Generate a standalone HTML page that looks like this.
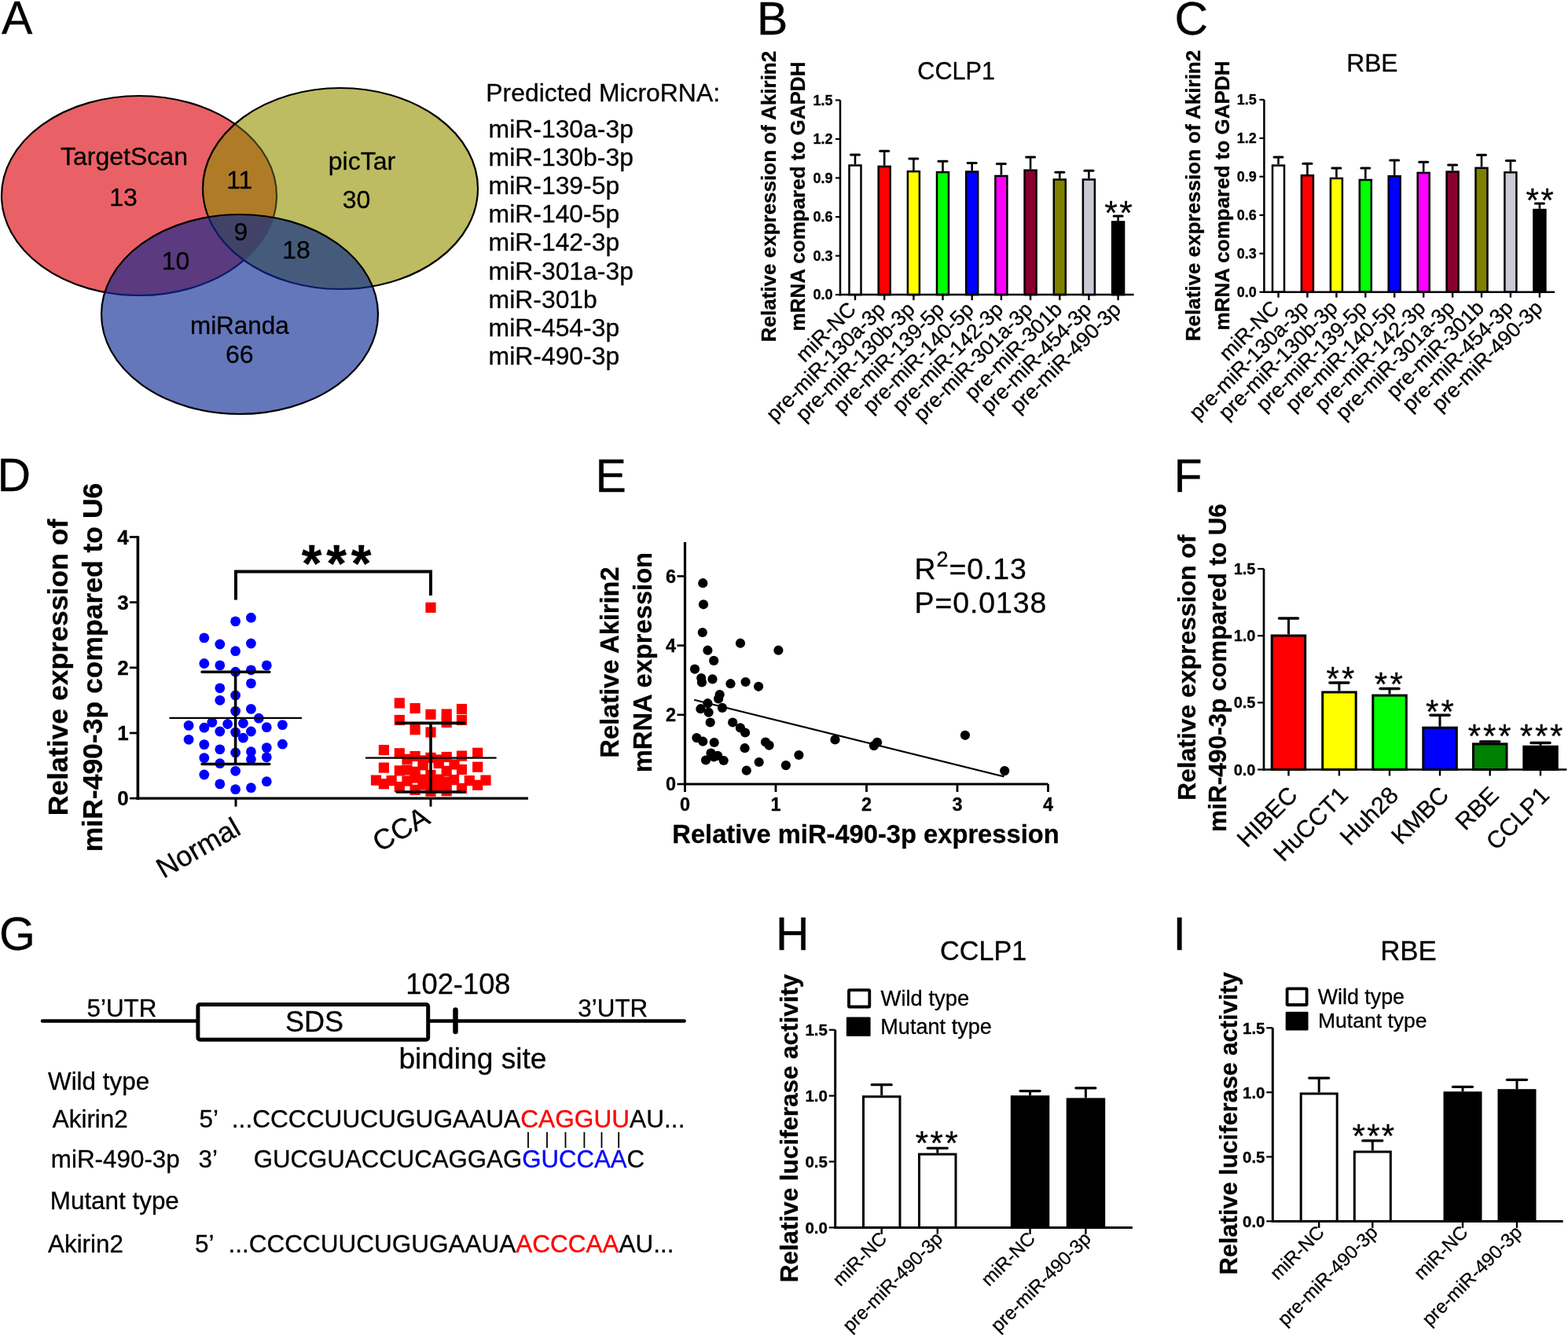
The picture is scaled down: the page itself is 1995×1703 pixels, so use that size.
<!DOCTYPE html>
<html><head><meta charset="utf-8"><title>Figure</title>
<style>html,body{margin:0;padding:0;background:#fff;} svg{display:block;} text{stroke:#000;stroke-width:0.3px;}</style>
</head><body>
<svg xmlns="http://www.w3.org/2000/svg" width="1995" height="1703" viewBox="0 0 1995 1703" font-family="'Liberation Sans', Arial, sans-serif">
<rect width="1995" height="1703" fill="#fff"/>
<text x="2.1" y="43.3" font-size="59">A</text>
<text x="962.9" y="44.0" font-size="59">B</text>
<text x="1494.4" y="44.0" font-size="59">C</text>
<text x="-3.6" y="624.8" font-size="59">D</text>
<text x="757.5" y="625.8" font-size="59">E</text>
<text x="1493.6" y="626.0" font-size="59">F</text>
<text x="-1.1" y="1208.7" font-size="59">G</text>
<text x="986.9" y="1209.4" font-size="59">H</text>
<text x="1492.5" y="1209.4" font-size="59">I</text>
<defs>
<clipPath id="cR"><ellipse cx="177" cy="249" rx="175" ry="127" /></clipPath>
<clipPath id="cY"><ellipse cx="433" cy="240" rx="175" ry="128" /></clipPath>
<clipPath id="cB"><ellipse cx="305" cy="400" rx="176" ry="127" /></clipPath>
</defs>
<ellipse cx="177" cy="249" rx="175" ry="127" fill="#E96166"/>
<ellipse cx="433" cy="240" rx="175" ry="128" fill="#BDBC62"/>
<ellipse cx="305" cy="400" rx="176" ry="127" fill="#6477BB"/>
<g clip-path="url(#cR)"><ellipse cx="433" cy="240" rx="175" ry="128" fill="#B07B27"/><ellipse cx="305" cy="400" rx="176" ry="127" fill="#5B3A7F"/></g>
<g clip-path="url(#cY)"><ellipse cx="305" cy="400" rx="176" ry="127" fill="#465B7C"/><g clip-path="url(#cR)"><ellipse cx="305" cy="400" rx="176" ry="127" fill="#414366"/></g></g>
<defs>
<mask id="mNYB" maskUnits="userSpaceOnUse" x="0" y="0" width="700" height="600"><rect width="700" height="600" fill="#fff"/><ellipse cx="433" cy="240" rx="175" ry="128" fill="#000"/><ellipse cx="305" cy="400" rx="176" ry="127" fill="#000"/></mask>
<mask id="mNB" maskUnits="userSpaceOnUse" x="0" y="0" width="700" height="600"><rect width="700" height="600" fill="#fff"/><ellipse cx="305" cy="400" rx="176" ry="127" fill="#000"/></mask>
<mask id="mNY" maskUnits="userSpaceOnUse" x="0" y="0" width="700" height="600"><rect width="700" height="600" fill="#fff"/><ellipse cx="433" cy="240" rx="175" ry="128" fill="#000"/></mask>
</defs>
<g mask="url(#mNYB)"><ellipse cx="177" cy="249" rx="175" ry="127" fill="none" stroke="#000" stroke-width="2.2"/></g>
<g clip-path="url(#cY)"><g mask="url(#mNB)"><ellipse cx="177" cy="249" rx="175" ry="127" fill="none" stroke="#3A3A12" stroke-width="2.2"/></g></g>
<g clip-path="url(#cB)"><g mask="url(#mNY)"><ellipse cx="177" cy="249" rx="175" ry="127" fill="none" stroke="#0A1A6A" stroke-width="2.2"/></g></g>
<g clip-path="url(#cB)"><g clip-path="url(#cY)"><ellipse cx="177" cy="249" rx="175" ry="127" fill="none" stroke="#344A6C" stroke-width="2.2"/></g></g>
<g mask="url(#mNB)"><ellipse cx="433" cy="240" rx="175" ry="128" fill="none" stroke="#000" stroke-width="2.2"/></g>
<g clip-path="url(#cB)"><ellipse cx="433" cy="240" rx="175" ry="128" fill="none" stroke="#0A1A66" stroke-width="2.2"/></g>
<ellipse cx="305" cy="400" rx="176" ry="127" fill="none" stroke="#000" stroke-width="2.2"/>
<text x="158.0" y="210.0" font-size="32" text-anchor="middle">TargetScan</text>
<text x="157.0" y="261.5" font-size="32" text-anchor="middle">13</text>
<text x="460.4" y="215.8" font-size="32" text-anchor="middle">picTar</text>
<text x="453.6" y="264.7" font-size="32" text-anchor="middle">30</text>
<text x="304.8" y="240.0" font-size="32" text-anchor="middle">11</text>
<text x="306.4" y="306.4" font-size="32" text-anchor="middle">9</text>
<text x="223.6" y="343.3" font-size="32" text-anchor="middle">10</text>
<text x="377.0" y="328.8" font-size="32" text-anchor="middle">18</text>
<text x="304.8" y="425.0" font-size="31.4" text-anchor="middle">miRanda</text>
<text x="304.8" y="462.0" font-size="32" text-anchor="middle">66</text>
<text x="618.3" y="129.3" font-size="31.9">Predicted MicroRNA:</text>
<text x="621.6" y="174.8" font-size="31.9">miR-130a-3p</text>
<text x="621.6" y="211.0" font-size="31.9">miR-130b-3p</text>
<text x="621.6" y="247.1" font-size="31.9">miR-139-5p</text>
<text x="621.6" y="283.2" font-size="31.9">miR-140-5p</text>
<text x="621.6" y="319.4" font-size="31.9">miR-142-3p</text>
<text x="621.6" y="355.6" font-size="31.9">miR-301a-3p</text>
<text x="621.6" y="391.7" font-size="31.9">miR-301b</text>
<text x="621.6" y="427.9" font-size="31.9">miR-454-3p</text>
<text x="621.6" y="464.0" font-size="31.9">miR-490-3p</text>
<line x1="1088.0" y1="209.2" x2="1088.0" y2="197.0" stroke="#000" stroke-width="2.6" stroke-linecap="butt"/>
<line x1="1082.5" y1="197.0" x2="1093.5" y2="197.0" stroke="#000" stroke-width="3" stroke-linecap="round"/>
<rect x="1080.5" y="210.5" width="15.0" height="164.6" fill="#FFFFFF" stroke="#000" stroke-width="2.5"/>
<line x1="1125.2" y1="210.7" x2="1125.2" y2="192.2" stroke="#000" stroke-width="2.6" stroke-linecap="butt"/>
<line x1="1119.7" y1="192.2" x2="1130.7" y2="192.2" stroke="#000" stroke-width="3" stroke-linecap="round"/>
<rect x="1117.7" y="211.9" width="15.0" height="163.2" fill="#FF0000" stroke="#000" stroke-width="2.5"/>
<line x1="1162.4" y1="217.0" x2="1162.4" y2="202.1" stroke="#000" stroke-width="2.6" stroke-linecap="butt"/>
<line x1="1156.9" y1="202.1" x2="1167.9" y2="202.1" stroke="#000" stroke-width="3" stroke-linecap="round"/>
<rect x="1154.9" y="218.2" width="15.0" height="156.9" fill="#FFFF00" stroke="#000" stroke-width="2.5"/>
<line x1="1199.5" y1="218.0" x2="1199.5" y2="205.2" stroke="#000" stroke-width="2.6" stroke-linecap="butt"/>
<line x1="1194.0" y1="205.2" x2="1205.0" y2="205.2" stroke="#000" stroke-width="3" stroke-linecap="round"/>
<rect x="1192.0" y="219.2" width="15.0" height="155.9" fill="#00FF00" stroke="#000" stroke-width="2.5"/>
<line x1="1236.7" y1="217.3" x2="1236.7" y2="207.6" stroke="#000" stroke-width="2.6" stroke-linecap="butt"/>
<line x1="1231.2" y1="207.6" x2="1242.2" y2="207.6" stroke="#000" stroke-width="3" stroke-linecap="round"/>
<rect x="1229.2" y="218.5" width="15.0" height="156.6" fill="#0000FF" stroke="#000" stroke-width="2.5"/>
<line x1="1273.9" y1="222.7" x2="1273.9" y2="208.4" stroke="#000" stroke-width="2.6" stroke-linecap="butt"/>
<line x1="1268.4" y1="208.4" x2="1279.4" y2="208.4" stroke="#000" stroke-width="3" stroke-linecap="round"/>
<rect x="1266.4" y="224.0" width="15.0" height="151.1" fill="#FF00FF" stroke="#000" stroke-width="2.5"/>
<line x1="1311.1" y1="215.5" x2="1311.1" y2="200.1" stroke="#000" stroke-width="2.6" stroke-linecap="butt"/>
<line x1="1305.6" y1="200.1" x2="1316.6" y2="200.1" stroke="#000" stroke-width="3" stroke-linecap="round"/>
<rect x="1303.6" y="216.7" width="15.0" height="158.4" fill="#880030" stroke="#000" stroke-width="2.5"/>
<line x1="1348.3" y1="227.2" x2="1348.3" y2="219.3" stroke="#000" stroke-width="2.6" stroke-linecap="butt"/>
<line x1="1342.8" y1="219.3" x2="1353.8" y2="219.3" stroke="#000" stroke-width="3" stroke-linecap="round"/>
<rect x="1340.8" y="228.5" width="15.0" height="146.6" fill="#808000" stroke="#000" stroke-width="2.5"/>
<line x1="1385.4" y1="227.2" x2="1385.4" y2="217.3" stroke="#000" stroke-width="2.6" stroke-linecap="butt"/>
<line x1="1379.9" y1="217.3" x2="1390.9" y2="217.3" stroke="#000" stroke-width="3" stroke-linecap="round"/>
<rect x="1377.9" y="228.5" width="15.0" height="146.6" fill="#CACAD6" stroke="#000" stroke-width="2.5"/>
<line x1="1422.6" y1="281.2" x2="1422.6" y2="275.1" stroke="#000" stroke-width="2.6" stroke-linecap="butt"/>
<line x1="1417.1" y1="275.1" x2="1428.1" y2="275.1" stroke="#000" stroke-width="3" stroke-linecap="round"/>
<rect x="1415.1" y="282.4" width="15.0" height="92.7" fill="#000000" stroke="#000" stroke-width="2.5"/>
<line x1="1069.0" y1="127.5" x2="1069.0" y2="376.4" stroke="#000" stroke-width="2.5" stroke-linecap="butt"/>
<line x1="1067.8" y1="375.1" x2="1442.6" y2="375.1" stroke="#000" stroke-width="2.5" stroke-linecap="butt"/>
<line x1="1063.0" y1="375.1" x2="1069.0" y2="375.1" stroke="#000" stroke-width="2.2" stroke-linecap="butt"/>
<text x="1059.5" y="381.4" font-size="18" font-weight="bold" text-anchor="end">0.0</text>
<line x1="1063.0" y1="325.6" x2="1069.0" y2="325.6" stroke="#000" stroke-width="2.2" stroke-linecap="butt"/>
<text x="1059.5" y="331.9" font-size="18" font-weight="bold" text-anchor="end">0.3</text>
<line x1="1063.0" y1="276.1" x2="1069.0" y2="276.1" stroke="#000" stroke-width="2.2" stroke-linecap="butt"/>
<text x="1059.5" y="282.4" font-size="18" font-weight="bold" text-anchor="end">0.6</text>
<line x1="1063.0" y1="226.5" x2="1069.0" y2="226.5" stroke="#000" stroke-width="2.2" stroke-linecap="butt"/>
<text x="1059.5" y="232.8" font-size="18" font-weight="bold" text-anchor="end">0.9</text>
<line x1="1063.0" y1="177.0" x2="1069.0" y2="177.0" stroke="#000" stroke-width="2.2" stroke-linecap="butt"/>
<text x="1059.5" y="183.3" font-size="18" font-weight="bold" text-anchor="end">1.2</text>
<line x1="1063.0" y1="127.5" x2="1069.0" y2="127.5" stroke="#000" stroke-width="2.2" stroke-linecap="butt"/>
<text x="1059.5" y="133.8" font-size="18" font-weight="bold" text-anchor="end">1.5</text>
<line x1="1088.0" y1="375.1" x2="1088.0" y2="382.1" stroke="#000" stroke-width="2.4" stroke-linecap="butt"/>
<line x1="1125.2" y1="375.1" x2="1125.2" y2="382.1" stroke="#000" stroke-width="2.4" stroke-linecap="butt"/>
<line x1="1162.4" y1="375.1" x2="1162.4" y2="382.1" stroke="#000" stroke-width="2.4" stroke-linecap="butt"/>
<line x1="1199.5" y1="375.1" x2="1199.5" y2="382.1" stroke="#000" stroke-width="2.4" stroke-linecap="butt"/>
<line x1="1236.7" y1="375.1" x2="1236.7" y2="382.1" stroke="#000" stroke-width="2.4" stroke-linecap="butt"/>
<line x1="1273.9" y1="375.1" x2="1273.9" y2="382.1" stroke="#000" stroke-width="2.4" stroke-linecap="butt"/>
<line x1="1311.1" y1="375.1" x2="1311.1" y2="382.1" stroke="#000" stroke-width="2.4" stroke-linecap="butt"/>
<line x1="1348.3" y1="375.1" x2="1348.3" y2="382.1" stroke="#000" stroke-width="2.4" stroke-linecap="butt"/>
<line x1="1385.4" y1="375.1" x2="1385.4" y2="382.1" stroke="#000" stroke-width="2.4" stroke-linecap="butt"/>
<line x1="1422.6" y1="375.1" x2="1422.6" y2="382.1" stroke="#000" stroke-width="2.4" stroke-linecap="butt"/>
<text transform="translate(1090.5,395.5) rotate(-45)" font-size="26.6" text-anchor="end">miR-NC</text>
<text transform="translate(1128.0,395.5) rotate(-45)" font-size="26.6" text-anchor="end">pre-miR-130a-3p</text>
<text transform="translate(1165.5,395.5) rotate(-45)" font-size="26.6" text-anchor="end">pre-miR-130b-3p</text>
<text transform="translate(1202.9,395.5) rotate(-45)" font-size="26.6" text-anchor="end">pre-miR-139-5p</text>
<text transform="translate(1240.4,395.5) rotate(-45)" font-size="26.6" text-anchor="end">pre-miR-140-5p</text>
<text transform="translate(1277.9,395.5) rotate(-45)" font-size="26.6" text-anchor="end">pre-miR-142-3p</text>
<text transform="translate(1315.4,395.5) rotate(-45)" font-size="26.6" text-anchor="end">pre-miR-301a-3p</text>
<text transform="translate(1352.9,395.5) rotate(-45)" font-size="26.6" text-anchor="end">pre-miR-301b</text>
<text transform="translate(1390.3,395.5) rotate(-45)" font-size="26.6" text-anchor="end">pre-miR-454-3p</text>
<text transform="translate(1427.8,395.5) rotate(-45)" font-size="26.6" text-anchor="end">pre-miR-490-3p</text>
<text x="1413.5" y="284.6" font-size="42.5" text-anchor="middle">*</text>
<text x="1432.4" y="284.6" font-size="42.5" text-anchor="middle">*</text>
<text x="1216.6" y="101.3" font-size="30.6" text-anchor="middle">CCLP1</text>
<text transform="translate(987.0,250.0) rotate(-90)" font-size="26" font-weight="bold" text-anchor="middle">Relative expression of Akirin2</text>
<text transform="translate(1024.0,250.0) rotate(-90)" font-size="26" font-weight="bold" text-anchor="middle">mRNA compared to GAPDH</text>
<line x1="1626.5" y1="209.3" x2="1626.5" y2="199.9" stroke="#000" stroke-width="2.6" stroke-linecap="butt"/>
<line x1="1621.0" y1="199.9" x2="1632.0" y2="199.9" stroke="#000" stroke-width="3" stroke-linecap="round"/>
<rect x="1619.0" y="210.6" width="15.0" height="161.1" fill="#FFFFFF" stroke="#000" stroke-width="2.5"/>
<line x1="1663.4" y1="222.0" x2="1663.4" y2="208.3" stroke="#000" stroke-width="2.6" stroke-linecap="butt"/>
<line x1="1657.9" y1="208.3" x2="1668.9" y2="208.3" stroke="#000" stroke-width="3" stroke-linecap="round"/>
<rect x="1655.9" y="223.3" width="15.0" height="148.4" fill="#FF0000" stroke="#000" stroke-width="2.5"/>
<line x1="1700.4" y1="225.8" x2="1700.4" y2="214.0" stroke="#000" stroke-width="2.6" stroke-linecap="butt"/>
<line x1="1694.9" y1="214.0" x2="1705.9" y2="214.0" stroke="#000" stroke-width="3" stroke-linecap="round"/>
<rect x="1692.9" y="227.0" width="15.0" height="144.7" fill="#FFFF00" stroke="#000" stroke-width="2.5"/>
<line x1="1737.3" y1="227.8" x2="1737.3" y2="214.0" stroke="#000" stroke-width="2.6" stroke-linecap="butt"/>
<line x1="1731.8" y1="214.0" x2="1742.8" y2="214.0" stroke="#000" stroke-width="3" stroke-linecap="round"/>
<rect x="1729.8" y="229.0" width="15.0" height="142.7" fill="#00FF00" stroke="#000" stroke-width="2.5"/>
<line x1="1774.2" y1="223.0" x2="1774.2" y2="203.9" stroke="#000" stroke-width="2.6" stroke-linecap="butt"/>
<line x1="1768.7" y1="203.9" x2="1779.7" y2="203.9" stroke="#000" stroke-width="3" stroke-linecap="round"/>
<rect x="1766.7" y="224.3" width="15.0" height="147.4" fill="#0000FF" stroke="#000" stroke-width="2.5"/>
<line x1="1811.2" y1="218.8" x2="1811.2" y2="206.2" stroke="#000" stroke-width="2.6" stroke-linecap="butt"/>
<line x1="1805.7" y1="206.2" x2="1816.7" y2="206.2" stroke="#000" stroke-width="3" stroke-linecap="round"/>
<rect x="1803.7" y="220.0" width="15.0" height="151.7" fill="#FF00FF" stroke="#000" stroke-width="2.5"/>
<line x1="1848.1" y1="217.3" x2="1848.1" y2="210.0" stroke="#000" stroke-width="2.6" stroke-linecap="butt"/>
<line x1="1842.6" y1="210.0" x2="1853.6" y2="210.0" stroke="#000" stroke-width="3" stroke-linecap="round"/>
<rect x="1840.6" y="218.6" width="15.0" height="153.1" fill="#880030" stroke="#000" stroke-width="2.5"/>
<line x1="1885.0" y1="212.6" x2="1885.0" y2="197.2" stroke="#000" stroke-width="2.6" stroke-linecap="butt"/>
<line x1="1879.5" y1="197.2" x2="1890.5" y2="197.2" stroke="#000" stroke-width="3" stroke-linecap="round"/>
<rect x="1877.5" y="213.8" width="15.0" height="157.9" fill="#808000" stroke="#000" stroke-width="2.5"/>
<line x1="1921.9" y1="218.1" x2="1921.9" y2="204.6" stroke="#000" stroke-width="2.6" stroke-linecap="butt"/>
<line x1="1916.4" y1="204.6" x2="1927.4" y2="204.6" stroke="#000" stroke-width="3" stroke-linecap="round"/>
<rect x="1914.4" y="219.4" width="15.0" height="152.3" fill="#CACAD6" stroke="#000" stroke-width="2.5"/>
<line x1="1958.9" y1="265.8" x2="1958.9" y2="259.1" stroke="#000" stroke-width="2.6" stroke-linecap="butt"/>
<line x1="1953.4" y1="259.1" x2="1964.4" y2="259.1" stroke="#000" stroke-width="3" stroke-linecap="round"/>
<rect x="1951.4" y="267.0" width="15.0" height="104.7" fill="#000000" stroke="#000" stroke-width="2.5"/>
<line x1="1608.4" y1="126.9" x2="1608.4" y2="372.9" stroke="#000" stroke-width="2.5" stroke-linecap="butt"/>
<line x1="1607.2" y1="371.7" x2="1978.0" y2="371.7" stroke="#000" stroke-width="2.5" stroke-linecap="butt"/>
<line x1="1602.4" y1="371.7" x2="1608.4" y2="371.7" stroke="#000" stroke-width="2.2" stroke-linecap="butt"/>
<text x="1598.9" y="378.0" font-size="18" font-weight="bold" text-anchor="end">0.0</text>
<line x1="1602.4" y1="322.7" x2="1608.4" y2="322.7" stroke="#000" stroke-width="2.2" stroke-linecap="butt"/>
<text x="1598.9" y="329.0" font-size="18" font-weight="bold" text-anchor="end">0.3</text>
<line x1="1602.4" y1="273.8" x2="1608.4" y2="273.8" stroke="#000" stroke-width="2.2" stroke-linecap="butt"/>
<text x="1598.9" y="280.1" font-size="18" font-weight="bold" text-anchor="end">0.6</text>
<line x1="1602.4" y1="224.8" x2="1608.4" y2="224.8" stroke="#000" stroke-width="2.2" stroke-linecap="butt"/>
<text x="1598.9" y="231.1" font-size="18" font-weight="bold" text-anchor="end">0.9</text>
<line x1="1602.4" y1="175.9" x2="1608.4" y2="175.9" stroke="#000" stroke-width="2.2" stroke-linecap="butt"/>
<text x="1598.9" y="182.2" font-size="18" font-weight="bold" text-anchor="end">1.2</text>
<line x1="1602.4" y1="126.9" x2="1608.4" y2="126.9" stroke="#000" stroke-width="2.2" stroke-linecap="butt"/>
<text x="1598.9" y="133.2" font-size="18" font-weight="bold" text-anchor="end">1.5</text>
<line x1="1626.5" y1="371.7" x2="1626.5" y2="378.7" stroke="#000" stroke-width="2.4" stroke-linecap="butt"/>
<line x1="1663.4" y1="371.7" x2="1663.4" y2="378.7" stroke="#000" stroke-width="2.4" stroke-linecap="butt"/>
<line x1="1700.4" y1="371.7" x2="1700.4" y2="378.7" stroke="#000" stroke-width="2.4" stroke-linecap="butt"/>
<line x1="1737.3" y1="371.7" x2="1737.3" y2="378.7" stroke="#000" stroke-width="2.4" stroke-linecap="butt"/>
<line x1="1774.2" y1="371.7" x2="1774.2" y2="378.7" stroke="#000" stroke-width="2.4" stroke-linecap="butt"/>
<line x1="1811.2" y1="371.7" x2="1811.2" y2="378.7" stroke="#000" stroke-width="2.4" stroke-linecap="butt"/>
<line x1="1848.1" y1="371.7" x2="1848.1" y2="378.7" stroke="#000" stroke-width="2.4" stroke-linecap="butt"/>
<line x1="1885.0" y1="371.7" x2="1885.0" y2="378.7" stroke="#000" stroke-width="2.4" stroke-linecap="butt"/>
<line x1="1921.9" y1="371.7" x2="1921.9" y2="378.7" stroke="#000" stroke-width="2.4" stroke-linecap="butt"/>
<line x1="1958.9" y1="371.7" x2="1958.9" y2="378.7" stroke="#000" stroke-width="2.4" stroke-linecap="butt"/>
<text transform="translate(1629.0,393.6) rotate(-45)" font-size="26.6" text-anchor="end">miR-NC</text>
<text transform="translate(1666.2,393.6) rotate(-45)" font-size="26.6" text-anchor="end">pre-miR-130a-3p</text>
<text transform="translate(1703.5,393.6) rotate(-45)" font-size="26.6" text-anchor="end">pre-miR-130b-3p</text>
<text transform="translate(1740.7,393.6) rotate(-45)" font-size="26.6" text-anchor="end">pre-miR-139-5p</text>
<text transform="translate(1777.9,393.6) rotate(-45)" font-size="26.6" text-anchor="end">pre-miR-140-5p</text>
<text transform="translate(1815.2,393.6) rotate(-45)" font-size="26.6" text-anchor="end">pre-miR-142-3p</text>
<text transform="translate(1852.4,393.6) rotate(-45)" font-size="26.6" text-anchor="end">pre-miR-301a-3p</text>
<text transform="translate(1889.6,393.6) rotate(-45)" font-size="26.6" text-anchor="end">pre-miR-301b</text>
<text transform="translate(1926.8,393.6) rotate(-45)" font-size="26.6" text-anchor="end">pre-miR-454-3p</text>
<text transform="translate(1964.1,393.6) rotate(-45)" font-size="26.6" text-anchor="end">pre-miR-490-3p</text>
<text x="1949.7" y="268.5" font-size="42.5" text-anchor="middle">*</text>
<text x="1968.4" y="268.5" font-size="42.5" text-anchor="middle">*</text>
<text x="1745.9" y="91.3" font-size="31.7" text-anchor="middle">RBE</text>
<text transform="translate(1527.0,249.0) rotate(-90)" font-size="26" font-weight="bold" text-anchor="middle">Relative expression of Akirin2</text>
<text transform="translate(1564.0,249.0) rotate(-90)" font-size="26" font-weight="bold" text-anchor="middle">mRNA compared to GAPDH</text>
<line x1="175.4" y1="682.2" x2="175.4" y2="1017.9" stroke="#000" stroke-width="3.6" stroke-linecap="butt"/>
<line x1="173.6" y1="1016.1" x2="672.0" y2="1016.1" stroke="#000" stroke-width="3.4" stroke-linecap="butt"/>
<line x1="164.9" y1="1016.1" x2="175.4" y2="1016.1" stroke="#000" stroke-width="2.7" stroke-linecap="butt"/>
<text x="163.6" y="1025.2" font-size="26" font-weight="bold" text-anchor="end">0</text>
<line x1="164.9" y1="933.0" x2="175.4" y2="933.0" stroke="#000" stroke-width="2.7" stroke-linecap="butt"/>
<text x="163.6" y="942.1" font-size="26" font-weight="bold" text-anchor="end">1</text>
<line x1="164.9" y1="849.8" x2="175.4" y2="849.8" stroke="#000" stroke-width="2.7" stroke-linecap="butt"/>
<text x="163.6" y="858.9" font-size="26" font-weight="bold" text-anchor="end">2</text>
<line x1="164.9" y1="766.6" x2="175.4" y2="766.6" stroke="#000" stroke-width="2.7" stroke-linecap="butt"/>
<text x="163.6" y="775.8" font-size="26" font-weight="bold" text-anchor="end">3</text>
<line x1="164.9" y1="683.5" x2="175.4" y2="683.5" stroke="#000" stroke-width="2.7" stroke-linecap="butt"/>
<text x="163.6" y="692.6" font-size="26" font-weight="bold" text-anchor="end">4</text>
<line x1="300.0" y1="1016.1" x2="300.0" y2="1026.6" stroke="#000" stroke-width="3" stroke-linecap="butt"/>
<line x1="548.0" y1="1016.1" x2="548.0" y2="1026.6" stroke="#000" stroke-width="3" stroke-linecap="butt"/>
<circle cx="299.6" cy="790.9" r="6.4" fill="#0000FF"/>
<circle cx="319.4" cy="786.2" r="6.4" fill="#0000FF"/>
<circle cx="259.8" cy="811.9" r="6.4" fill="#0000FF"/>
<circle cx="279.8" cy="820" r="6.4" fill="#0000FF"/>
<circle cx="319.4" cy="819" r="6.4" fill="#0000FF"/>
<circle cx="299.6" cy="828.7" r="6.4" fill="#0000FF"/>
<circle cx="259.8" cy="844.5" r="6.4" fill="#0000FF"/>
<circle cx="279.8" cy="846.9" r="6.4" fill="#0000FF"/>
<circle cx="339.3" cy="846.9" r="6.4" fill="#0000FF"/>
<circle cx="299.6" cy="855.2" r="6.4" fill="#0000FF"/>
<circle cx="319.4" cy="852.8" r="6.4" fill="#0000FF"/>
<circle cx="319.4" cy="869.8" r="6.4" fill="#0000FF"/>
<circle cx="279.8" cy="875.8" r="6.4" fill="#0000FF"/>
<circle cx="299.6" cy="885" r="6.4" fill="#0000FF"/>
<circle cx="279.8" cy="891.3" r="6.4" fill="#0000FF"/>
<circle cx="319.4" cy="902.4" r="6.4" fill="#0000FF"/>
<circle cx="299.6" cy="905.1" r="6.4" fill="#0000FF"/>
<circle cx="329.3" cy="914.2" r="6.4" fill="#0000FF"/>
<circle cx="269.8" cy="919.4" r="6.4" fill="#0000FF"/>
<circle cx="289.6" cy="921.5" r="6.4" fill="#0000FF"/>
<circle cx="309.4" cy="920.5" r="6.4" fill="#0000FF"/>
<circle cx="240.1" cy="923.4" r="6.4" fill="#0000FF"/>
<circle cx="259.8" cy="926.2" r="6.4" fill="#0000FF"/>
<circle cx="339.3" cy="925.7" r="6.4" fill="#0000FF"/>
<circle cx="359.4" cy="922.6" r="6.4" fill="#0000FF"/>
<circle cx="279.8" cy="931" r="6.4" fill="#0000FF"/>
<circle cx="299.6" cy="932.1" r="6.4" fill="#0000FF"/>
<circle cx="319.4" cy="931" r="6.4" fill="#0000FF"/>
<circle cx="309.4" cy="939.2" r="6.4" fill="#0000FF"/>
<circle cx="240.1" cy="941.3" r="6.4" fill="#0000FF"/>
<circle cx="259.8" cy="947.6" r="6.4" fill="#0000FF"/>
<circle cx="359.4" cy="947.2" r="6.4" fill="#0000FF"/>
<circle cx="339.3" cy="951.6" r="6.4" fill="#0000FF"/>
<circle cx="279.8" cy="953.8" r="6.4" fill="#0000FF"/>
<circle cx="299.6" cy="958" r="6.4" fill="#0000FF"/>
<circle cx="319.4" cy="956.7" r="6.4" fill="#0000FF"/>
<circle cx="259.8" cy="964.6" r="6.4" fill="#0000FF"/>
<circle cx="339.3" cy="963.8" r="6.4" fill="#0000FF"/>
<circle cx="319.4" cy="966.5" r="6.4" fill="#0000FF"/>
<circle cx="279.8" cy="971.7" r="6.4" fill="#0000FF"/>
<circle cx="299.6" cy="981.3" r="6.4" fill="#0000FF"/>
<circle cx="259.8" cy="986" r="6.4" fill="#0000FF"/>
<circle cx="339.3" cy="994.7" r="6.4" fill="#0000FF"/>
<circle cx="279.8" cy="997.9" r="6.4" fill="#0000FF"/>
<circle cx="319.4" cy="1002.7" r="6.4" fill="#0000FF"/>
<circle cx="299.6" cy="1004.7" r="6.4" fill="#0000FF"/>
<rect x="541.4" y="766.7" width="13.2" height="13.2" fill="#FF0000"/>
<rect x="501.7" y="888.3" width="13.2" height="13.2" fill="#FF0000"/>
<rect x="521.5" y="894.9" width="13.2" height="13.2" fill="#FF0000"/>
<rect x="541.4" y="902.7" width="13.2" height="13.2" fill="#FF0000"/>
<rect x="561.6" y="902.4" width="13.2" height="13.2" fill="#FF0000"/>
<rect x="580.9" y="895.9" width="13.2" height="13.2" fill="#FF0000"/>
<rect x="580.9" y="909.9" width="13.2" height="13.2" fill="#FF0000"/>
<rect x="561.6" y="912.9" width="13.2" height="13.2" fill="#FF0000"/>
<rect x="501.7" y="909.9" width="13.2" height="13.2" fill="#FF0000"/>
<rect x="521.5" y="922.1" width="13.2" height="13.2" fill="#FF0000"/>
<rect x="541.4" y="925.4" width="13.2" height="13.2" fill="#FF0000"/>
<rect x="481.8" y="948.0" width="13.2" height="13.2" fill="#FF0000"/>
<rect x="501.7" y="952.2" width="13.2" height="13.2" fill="#FF0000"/>
<rect x="521.5" y="955.9" width="13.2" height="13.2" fill="#FF0000"/>
<rect x="541.4" y="957.8" width="13.2" height="13.2" fill="#FF0000"/>
<rect x="561.6" y="956.9" width="13.2" height="13.2" fill="#FF0000"/>
<rect x="580.9" y="955.5" width="13.2" height="13.2" fill="#FF0000"/>
<rect x="601.1" y="951.7" width="13.2" height="13.2" fill="#FF0000"/>
<rect x="511.4" y="959.7" width="13.2" height="13.2" fill="#FF0000"/>
<rect x="531.6" y="961.4" width="13.2" height="13.2" fill="#FF0000"/>
<rect x="551.6" y="960.4" width="13.2" height="13.2" fill="#FF0000"/>
<rect x="481.8" y="970.5" width="13.2" height="13.2" fill="#FF0000"/>
<rect x="501.7" y="974.3" width="13.2" height="13.2" fill="#FF0000"/>
<rect x="521.5" y="975.7" width="13.2" height="13.2" fill="#FF0000"/>
<rect x="531.6" y="967.2" width="13.2" height="13.2" fill="#FF0000"/>
<rect x="551.6" y="964.9" width="13.2" height="13.2" fill="#FF0000"/>
<rect x="561.6" y="974.7" width="13.2" height="13.2" fill="#FF0000"/>
<rect x="580.9" y="972.9" width="13.2" height="13.2" fill="#FF0000"/>
<rect x="601.1" y="969.6" width="13.2" height="13.2" fill="#FF0000"/>
<rect x="541.4" y="979.9" width="13.2" height="13.2" fill="#FF0000"/>
<rect x="511.4" y="973.4" width="13.2" height="13.2" fill="#FF0000"/>
<rect x="571.4" y="966.4" width="13.2" height="13.2" fill="#FF0000"/>
<rect x="471.9" y="986.5" width="13.2" height="13.2" fill="#FF0000"/>
<rect x="481.8" y="991.2" width="13.2" height="13.2" fill="#FF0000"/>
<rect x="491.6" y="987.0" width="13.2" height="13.2" fill="#FF0000"/>
<rect x="501.7" y="994.9" width="13.2" height="13.2" fill="#FF0000"/>
<rect x="511.4" y="987.4" width="13.2" height="13.2" fill="#FF0000"/>
<rect x="521.5" y="998.7" width="13.2" height="13.2" fill="#FF0000"/>
<rect x="531.6" y="985.5" width="13.2" height="13.2" fill="#FF0000"/>
<rect x="541.4" y="1000.6" width="13.2" height="13.2" fill="#FF0000"/>
<rect x="551.6" y="985.5" width="13.2" height="13.2" fill="#FF0000"/>
<rect x="561.6" y="1000.1" width="13.2" height="13.2" fill="#FF0000"/>
<rect x="571.0" y="986.0" width="13.2" height="13.2" fill="#FF0000"/>
<rect x="580.9" y="996.8" width="13.2" height="13.2" fill="#FF0000"/>
<rect x="590.7" y="987.0" width="13.2" height="13.2" fill="#FF0000"/>
<rect x="601.1" y="992.6" width="13.2" height="13.2" fill="#FF0000"/>
<rect x="611.4" y="986.5" width="13.2" height="13.2" fill="#FF0000"/>
<rect x="531.6" y="992.4" width="13.2" height="13.2" fill="#FF0000"/>
<rect x="551.6" y="993.4" width="13.2" height="13.2" fill="#FF0000"/>
<rect x="521.5" y="983.4" width="13.2" height="13.2" fill="#FF0000"/>
<rect x="561.6" y="988.4" width="13.2" height="13.2" fill="#FF0000"/>
<rect x="541.4" y="990.4" width="13.2" height="13.2" fill="#FF0000"/>
<line x1="215.4" y1="913.8" x2="384.0" y2="913.8" stroke="#000" stroke-width="2.2" stroke-linecap="butt"/>
<line x1="299.6" y1="855.2" x2="299.6" y2="972.5" stroke="#000" stroke-width="3.6" stroke-linecap="butt"/>
<line x1="257.1" y1="855.2" x2="342.7" y2="855.2" stroke="#000" stroke-width="3.6" stroke-linecap="round"/>
<line x1="257.1" y1="972.5" x2="342.7" y2="972.5" stroke="#000" stroke-width="3.6" stroke-linecap="round"/>
<line x1="465.0" y1="964.6" x2="631.6" y2="964.6" stroke="#000" stroke-width="2.2" stroke-linecap="butt"/>
<line x1="548.0" y1="920.4" x2="548.0" y2="1008.0" stroke="#000" stroke-width="3.6" stroke-linecap="butt"/>
<line x1="505.0" y1="920.4" x2="591.0" y2="920.4" stroke="#000" stroke-width="3.6" stroke-linecap="round"/>
<line x1="505.0" y1="1008.0" x2="591.0" y2="1008.0" stroke="#000" stroke-width="3.6" stroke-linecap="round"/>
<polyline points="300,763.5 300,727.5 548,727.5 548,758" fill="none" stroke="#000" stroke-width="4"/>
<text x="396.5" y="739.8" font-size="66" font-weight="bold" text-anchor="middle">*</text>
<text x="428.0" y="739.8" font-size="66" font-weight="bold" text-anchor="middle">*</text>
<text x="459.6" y="739.8" font-size="66" font-weight="bold" text-anchor="middle">*</text>
<text transform="translate(86.0,849.5) rotate(-90)" font-size="35.6" font-weight="bold" text-anchor="middle">Relative expression of</text>
<text transform="translate(130.0,849.5) rotate(-90)" font-size="35.5" font-weight="bold" text-anchor="middle">miR-490-3p compared to U6</text>
<text transform="translate(308.4,1060.8) rotate(-30)" font-size="36" text-anchor="end">Normal</text>
<text transform="translate(549.0,1047.0) rotate(-30)" font-size="36" text-anchor="end">CCA</text>
<line x1="871.5" y1="690.0" x2="871.5" y2="999.6" stroke="#000" stroke-width="3.2" stroke-linecap="butt"/>
<line x1="869.9" y1="998.0" x2="1333.5" y2="998.0" stroke="#000" stroke-width="3.2" stroke-linecap="butt"/>
<line x1="861.5" y1="998.0" x2="871.5" y2="998.0" stroke="#000" stroke-width="2.6" stroke-linecap="butt"/>
<text x="860.0" y="1006.2" font-size="23.5" font-weight="bold" text-anchor="end">0</text>
<line x1="861.5" y1="909.8" x2="871.5" y2="909.8" stroke="#000" stroke-width="2.6" stroke-linecap="butt"/>
<text x="860.0" y="918.0" font-size="23.5" font-weight="bold" text-anchor="end">2</text>
<line x1="861.5" y1="821.6" x2="871.5" y2="821.6" stroke="#000" stroke-width="2.6" stroke-linecap="butt"/>
<text x="860.0" y="829.8" font-size="23.5" font-weight="bold" text-anchor="end">4</text>
<line x1="861.5" y1="733.4" x2="871.5" y2="733.4" stroke="#000" stroke-width="2.6" stroke-linecap="butt"/>
<text x="860.0" y="741.6" font-size="23.5" font-weight="bold" text-anchor="end">6</text>
<line x1="871.5" y1="998.0" x2="871.5" y2="1008.0" stroke="#000" stroke-width="2.8" stroke-linecap="butt"/>
<text x="871.5" y="1031.5" font-size="23.5" font-weight="bold" text-anchor="middle">0</text>
<line x1="987.0" y1="998.0" x2="987.0" y2="1008.0" stroke="#000" stroke-width="2.8" stroke-linecap="butt"/>
<text x="987.0" y="1031.5" font-size="23.5" font-weight="bold" text-anchor="middle">1</text>
<line x1="1102.5" y1="998.0" x2="1102.5" y2="1008.0" stroke="#000" stroke-width="2.8" stroke-linecap="butt"/>
<text x="1102.5" y="1031.5" font-size="23.5" font-weight="bold" text-anchor="middle">2</text>
<line x1="1218.0" y1="998.0" x2="1218.0" y2="1008.0" stroke="#000" stroke-width="2.8" stroke-linecap="butt"/>
<text x="1218.0" y="1031.5" font-size="23.5" font-weight="bold" text-anchor="middle">3</text>
<line x1="1333.5" y1="998.0" x2="1333.5" y2="1008.0" stroke="#000" stroke-width="2.8" stroke-linecap="butt"/>
<text x="1333.5" y="1031.5" font-size="23.5" font-weight="bold" text-anchor="middle">4</text>
<circle cx="894.3" cy="742.2" r="6.1" fill="#000"/>
<circle cx="895" cy="769.3" r="6.1" fill="#000"/>
<circle cx="893.8" cy="805" r="6.1" fill="#000"/>
<circle cx="942" cy="818.7" r="6.1" fill="#000"/>
<circle cx="990.4" cy="827.7" r="6.1" fill="#000"/>
<circle cx="900.4" cy="827.7" r="6.1" fill="#000"/>
<circle cx="908.2" cy="840.9" r="6.1" fill="#000"/>
<circle cx="884" cy="851.6" r="6.1" fill="#000"/>
<circle cx="892.2" cy="863.1" r="6.1" fill="#000"/>
<circle cx="893" cy="868.5" r="6.1" fill="#000"/>
<circle cx="906.5" cy="864.4" r="6.1" fill="#000"/>
<circle cx="929.5" cy="870.2" r="6.1" fill="#000"/>
<circle cx="948.6" cy="868" r="6.1" fill="#000"/>
<circle cx="965.1" cy="873.8" r="6.1" fill="#000"/>
<circle cx="915.7" cy="884" r="6.1" fill="#000"/>
<circle cx="914.1" cy="889.4" r="6.1" fill="#000"/>
<circle cx="900.4" cy="895.2" r="6.1" fill="#000"/>
<circle cx="891.4" cy="902.2" r="6.1" fill="#000"/>
<circle cx="901.6" cy="906.7" r="6.1" fill="#000"/>
<circle cx="919" cy="900.9" r="6.1" fill="#000"/>
<circle cx="903.7" cy="919.5" r="6.1" fill="#000"/>
<circle cx="932.2" cy="919.5" r="6.1" fill="#000"/>
<circle cx="941.9" cy="926.4" r="6.1" fill="#000"/>
<circle cx="948.1" cy="932.5" r="6.1" fill="#000"/>
<circle cx="886.4" cy="939.1" r="6.1" fill="#000"/>
<circle cx="894.3" cy="943.7" r="6.1" fill="#000"/>
<circle cx="908.7" cy="945" r="6.1" fill="#000"/>
<circle cx="974" cy="944.5" r="6.1" fill="#000"/>
<circle cx="978.6" cy="948.6" r="6.1" fill="#000"/>
<circle cx="947.6" cy="952.2" r="6.1" fill="#000"/>
<circle cx="904.5" cy="958.5" r="6.1" fill="#000"/>
<circle cx="913.1" cy="961.8" r="6.1" fill="#000"/>
<circle cx="898" cy="967.5" r="6.1" fill="#000"/>
<circle cx="908.2" cy="963.4" r="6.1" fill="#000"/>
<circle cx="920.7" cy="968" r="6.1" fill="#000"/>
<circle cx="1016.4" cy="961" r="6.1" fill="#000"/>
<circle cx="965.7" cy="970" r="6.1" fill="#000"/>
<circle cx="999.9" cy="974.1" r="6.1" fill="#000"/>
<circle cx="949.8" cy="980.7" r="6.1" fill="#000"/>
<circle cx="1062.5" cy="941.4" r="6.1" fill="#000"/>
<circle cx="1116.1" cy="944.9" r="6.1" fill="#000"/>
<circle cx="1111.9" cy="949.1" r="6.1" fill="#000"/>
<circle cx="1228" cy="935.8" r="6.1" fill="#000"/>
<circle cx="1278.2" cy="981.1" r="6.1" fill="#000"/>
<line x1="883.2" y1="890.7" x2="1277.5" y2="988.4" stroke="#000" stroke-width="2.2" stroke-linecap="butt"/>
<text x="1163.5" y="737.3" font-size="37.5" letter-spacing="0.9">R<tspan font-size="27" dy="-16.5">2</tspan><tspan dy="16.5">=0.13</tspan></text>
<text x="1163.5" y="780.3" font-size="37.5" letter-spacing="0.9">P=0.0138</text>
<text x="1101.5" y="1073.0" font-size="32.7" font-weight="bold" text-anchor="middle">Relative miR-490-3p expression</text>
<text transform="translate(787.2,843.0) rotate(-90)" font-size="32.6" font-weight="bold" text-anchor="middle">Relative Akirin2</text>
<text transform="translate(829.0,843.1) rotate(-90)" font-size="32.7" font-weight="bold" text-anchor="middle">mRNA expression</text>
<line x1="1639.5" y1="807.5" x2="1639.5" y2="786.9" stroke="#000" stroke-width="3" stroke-linecap="butt"/>
<line x1="1627.5" y1="786.9" x2="1651.5" y2="786.9" stroke="#000" stroke-width="3.5" stroke-linecap="round"/>
<rect x="1618.2" y="809.0" width="42.5" height="170.5" fill="#FF0000" stroke="#000" stroke-width="3"/>
<line x1="1703.9" y1="879.5" x2="1703.9" y2="869.1" stroke="#000" stroke-width="3" stroke-linecap="butt"/>
<line x1="1691.9" y1="869.1" x2="1715.9" y2="869.1" stroke="#000" stroke-width="3.5" stroke-linecap="round"/>
<rect x="1682.7" y="881.0" width="42.5" height="98.5" fill="#FFFF00" stroke="#000" stroke-width="3"/>
<line x1="1768.0" y1="883.6" x2="1768.0" y2="876.4" stroke="#000" stroke-width="3" stroke-linecap="butt"/>
<line x1="1756.0" y1="876.4" x2="1780.0" y2="876.4" stroke="#000" stroke-width="3.5" stroke-linecap="round"/>
<rect x="1746.8" y="885.1" width="42.5" height="94.4" fill="#00FF00" stroke="#000" stroke-width="3"/>
<line x1="1832.0" y1="924.7" x2="1832.0" y2="910.3" stroke="#000" stroke-width="3" stroke-linecap="butt"/>
<line x1="1820.0" y1="910.3" x2="1844.0" y2="910.3" stroke="#000" stroke-width="3.5" stroke-linecap="round"/>
<rect x="1810.8" y="926.2" width="42.5" height="53.3" fill="#0000FF" stroke="#000" stroke-width="3"/>
<line x1="1895.7" y1="945.4" x2="1895.7" y2="944.1" stroke="#000" stroke-width="3" stroke-linecap="butt"/>
<line x1="1883.7" y1="944.1" x2="1907.7" y2="944.1" stroke="#000" stroke-width="3.5" stroke-linecap="round"/>
<rect x="1874.5" y="946.9" width="42.5" height="32.6" fill="#008000" stroke="#000" stroke-width="3"/>
<line x1="1960.0" y1="948.8" x2="1960.0" y2="945.4" stroke="#000" stroke-width="3" stroke-linecap="butt"/>
<line x1="1948.0" y1="945.4" x2="1972.0" y2="945.4" stroke="#000" stroke-width="3.5" stroke-linecap="round"/>
<rect x="1938.8" y="950.3" width="42.5" height="29.2" fill="#000000" stroke="#000" stroke-width="3"/>
<line x1="1608.0" y1="724.0" x2="1608.0" y2="980.9" stroke="#000" stroke-width="2.7" stroke-linecap="butt"/>
<line x1="1606.7" y1="979.5" x2="1993.4" y2="979.5" stroke="#000" stroke-width="2.7" stroke-linecap="butt"/>
<line x1="1600.0" y1="979.5" x2="1608.0" y2="979.5" stroke="#000" stroke-width="2.2" stroke-linecap="butt"/>
<text x="1597.5" y="986.5" font-size="20" font-weight="bold" text-anchor="end">0.0</text>
<line x1="1600.0" y1="894.3" x2="1608.0" y2="894.3" stroke="#000" stroke-width="2.2" stroke-linecap="butt"/>
<text x="1597.5" y="901.3" font-size="20" font-weight="bold" text-anchor="end">0.5</text>
<line x1="1600.0" y1="809.2" x2="1608.0" y2="809.2" stroke="#000" stroke-width="2.2" stroke-linecap="butt"/>
<text x="1597.5" y="816.2" font-size="20" font-weight="bold" text-anchor="end">1.0</text>
<line x1="1600.0" y1="724.0" x2="1608.0" y2="724.0" stroke="#000" stroke-width="2.2" stroke-linecap="butt"/>
<text x="1597.5" y="731.0" font-size="20" font-weight="bold" text-anchor="end">1.5</text>
<line x1="1639.5" y1="979.5" x2="1639.5" y2="987.5" stroke="#000" stroke-width="2.4" stroke-linecap="butt"/>
<line x1="1703.9" y1="979.5" x2="1703.9" y2="987.5" stroke="#000" stroke-width="2.4" stroke-linecap="butt"/>
<line x1="1768.0" y1="979.5" x2="1768.0" y2="987.5" stroke="#000" stroke-width="2.4" stroke-linecap="butt"/>
<line x1="1832.0" y1="979.5" x2="1832.0" y2="987.5" stroke="#000" stroke-width="2.4" stroke-linecap="butt"/>
<line x1="1895.7" y1="979.5" x2="1895.7" y2="987.5" stroke="#000" stroke-width="2.4" stroke-linecap="butt"/>
<line x1="1960.0" y1="979.5" x2="1960.0" y2="987.5" stroke="#000" stroke-width="2.4" stroke-linecap="butt"/>
<text transform="translate(1652.5,1014.0) rotate(-45)" font-size="30.5" text-anchor="end">HIBEC</text>
<text transform="translate(1716.9,1014.0) rotate(-45)" font-size="30.5" text-anchor="end">HuCCT1</text>
<text transform="translate(1781.0,1014.0) rotate(-45)" font-size="30.5" text-anchor="end">Huh28</text>
<text transform="translate(1845.0,1014.0) rotate(-45)" font-size="30.5" text-anchor="end">KMBC</text>
<text transform="translate(1908.7,1014.0) rotate(-45)" font-size="30.5" text-anchor="end">RBE</text>
<text transform="translate(1973.0,1014.0) rotate(-45)" font-size="30.5" text-anchor="end">CCLP1</text>
<text x="1695.6" y="877.5" font-size="42" text-anchor="middle">*</text>
<text x="1715.2" y="877.5" font-size="42" text-anchor="middle">*</text>
<text x="1757.0" y="885.2" font-size="42" text-anchor="middle">*</text>
<text x="1776.6" y="885.2" font-size="42" text-anchor="middle">*</text>
<text x="1822.1" y="920.0" font-size="42" text-anchor="middle">*</text>
<text x="1841.8" y="920.0" font-size="42" text-anchor="middle">*</text>
<text x="1875.9" y="951.3" font-size="42" text-anchor="middle">*</text>
<text x="1895.2" y="951.3" font-size="42" text-anchor="middle">*</text>
<text x="1914.5" y="951.3" font-size="42" text-anchor="middle">*</text>
<text x="1941.9" y="951.3" font-size="42" text-anchor="middle">*</text>
<text x="1961.2" y="951.3" font-size="42" text-anchor="middle">*</text>
<text x="1980.3" y="951.3" font-size="42" text-anchor="middle">*</text>
<text transform="translate(1521.0,849.8) rotate(-90)" font-size="31.9" font-weight="bold" text-anchor="middle">Relative expression of</text>
<text transform="translate(1560.0,850.0) rotate(-90)" font-size="31.6" font-weight="bold" text-anchor="middle">miR-490-3p compared to U6</text>
<line x1="54.0" y1="1299.4" x2="870.6" y2="1299.4" stroke="#000" stroke-width="4.5" stroke-linecap="round"/>
<rect x="251.9" y="1278.6" width="292.8" height="44.6" fill="#fff" stroke="#000" stroke-width="5" rx="2.5"/>
<line x1="579.5" y1="1285.5" x2="579.5" y2="1313.0" stroke="#000" stroke-width="6.5" stroke-linecap="round"/>
<text x="399.9" y="1312.6" font-size="36" text-anchor="middle">SDS</text>
<text x="516.3" y="1265.1" font-size="36.3">102-108</text>
<text x="110.5" y="1294.3" font-size="31.4">5&#8217;UTR</text>
<text x="735.3" y="1293.5" font-size="31.4">3&#8217;UTR</text>
<text x="507.4" y="1360.3" font-size="37.2">binding site</text>
<text x="61.0" y="1386.8" font-size="31.4">Wild type</text>
<text x="66.8" y="1435.0" font-size="31.4">Akirin2</text>
<text x="253.5" y="1435.0" font-size="31.4">5&#8217;</text>
<text x="294.8" y="1435" font-size="31.65">...CCCCUUCUGUGAAUA<tspan fill="#FF0000" stroke="#FF0000">CAGGUU</tspan>AU...</text>
<line x1="672.0" y1="1441.0" x2="672.0" y2="1461.0" stroke="#000" stroke-width="1.8" stroke-linecap="butt"/>
<line x1="696.0" y1="1441.0" x2="696.0" y2="1461.0" stroke="#000" stroke-width="1.8" stroke-linecap="butt"/>
<line x1="719.5" y1="1441.0" x2="719.5" y2="1461.0" stroke="#000" stroke-width="1.8" stroke-linecap="butt"/>
<line x1="743.4" y1="1441.0" x2="743.4" y2="1461.0" stroke="#000" stroke-width="1.8" stroke-linecap="butt"/>
<line x1="765.5" y1="1441.0" x2="765.5" y2="1461.0" stroke="#000" stroke-width="1.8" stroke-linecap="butt"/>
<line x1="787.2" y1="1441.0" x2="787.2" y2="1461.0" stroke="#000" stroke-width="1.8" stroke-linecap="butt"/>
<text x="64.8" y="1486.0" font-size="31.4">miR-490-3p</text>
<text x="252.6" y="1486.0" font-size="31.4">3&#8217;</text>
<text x="322.8" y="1486" font-size="31.2">GUCGUACCUCAGGAG<tspan fill="#0000FF" stroke="#0000FF">GUCCAA</tspan>C</text>
<text x="63.8" y="1538.8" font-size="31.4">Mutant type</text>
<text x="61.0" y="1594.3" font-size="31.4">Akirin2</text>
<text x="248.0" y="1594.3" font-size="31.4">5&#8217;</text>
<text x="290.4" y="1594.3" font-size="31.5">...CCCCUUCUGUGAAUA<tspan fill="#FF0000" stroke="#FF0000">ACCCAA</tspan>AU...</text>
<line x1="1121.7" y1="1394.3" x2="1121.7" y2="1380.7" stroke="#000" stroke-width="3" stroke-linecap="butt"/>
<line x1="1109.2" y1="1380.7" x2="1134.2" y2="1380.7" stroke="#000" stroke-width="3.3" stroke-linecap="round"/>
<rect x="1098.5" y="1395.8" width="46.5" height="166.6" fill="#fff" stroke="#000" stroke-width="3"/>
<line x1="1192.8" y1="1467.6" x2="1192.8" y2="1461.3" stroke="#000" stroke-width="3" stroke-linecap="butt"/>
<line x1="1180.3" y1="1461.3" x2="1205.3" y2="1461.3" stroke="#000" stroke-width="3.3" stroke-linecap="round"/>
<rect x="1169.5" y="1469.1" width="46.5" height="93.3" fill="#fff" stroke="#000" stroke-width="3"/>
<line x1="1310.6" y1="1394.3" x2="1310.6" y2="1388.6" stroke="#000" stroke-width="3" stroke-linecap="butt"/>
<line x1="1298.1" y1="1388.6" x2="1323.1" y2="1388.6" stroke="#000" stroke-width="3.3" stroke-linecap="round"/>
<rect x="1287.3" y="1395.8" width="46.5" height="166.6" fill="#000" stroke="#000" stroke-width="3"/>
<line x1="1381.4" y1="1397.5" x2="1381.4" y2="1384.8" stroke="#000" stroke-width="3" stroke-linecap="butt"/>
<line x1="1368.9" y1="1384.8" x2="1393.9" y2="1384.8" stroke="#000" stroke-width="3.3" stroke-linecap="round"/>
<rect x="1358.2" y="1399.0" width="46.5" height="163.4" fill="#000" stroke="#000" stroke-width="3"/>
<line x1="1062.7" y1="1310.8" x2="1062.7" y2="1563.9" stroke="#000" stroke-width="3" stroke-linecap="butt"/>
<line x1="1061.2" y1="1562.4" x2="1440.9" y2="1562.4" stroke="#000" stroke-width="3" stroke-linecap="butt"/>
<line x1="1054.7" y1="1562.4" x2="1062.7" y2="1562.4" stroke="#000" stroke-width="2.2" stroke-linecap="butt"/>
<text x="1052.9" y="1569.6" font-size="20.5" font-weight="bold" text-anchor="end">0.0</text>
<line x1="1054.7" y1="1478.5" x2="1062.7" y2="1478.5" stroke="#000" stroke-width="2.2" stroke-linecap="butt"/>
<text x="1052.9" y="1485.7" font-size="20.5" font-weight="bold" text-anchor="end">0.5</text>
<line x1="1054.7" y1="1394.7" x2="1062.7" y2="1394.7" stroke="#000" stroke-width="2.2" stroke-linecap="butt"/>
<text x="1052.9" y="1401.8" font-size="20.5" font-weight="bold" text-anchor="end">1.0</text>
<line x1="1054.7" y1="1310.8" x2="1062.7" y2="1310.8" stroke="#000" stroke-width="2.2" stroke-linecap="butt"/>
<text x="1052.9" y="1318.0" font-size="20.5" font-weight="bold" text-anchor="end">1.5</text>
<line x1="1121.7" y1="1562.4" x2="1121.7" y2="1570.9" stroke="#000" stroke-width="2.4" stroke-linecap="butt"/>
<line x1="1192.8" y1="1562.4" x2="1192.8" y2="1570.9" stroke="#000" stroke-width="2.4" stroke-linecap="butt"/>
<line x1="1310.6" y1="1562.4" x2="1310.6" y2="1570.9" stroke="#000" stroke-width="2.4" stroke-linecap="butt"/>
<line x1="1381.4" y1="1562.4" x2="1381.4" y2="1570.9" stroke="#000" stroke-width="2.4" stroke-linecap="butt"/>
<text transform="translate(1129.7,1578.0) rotate(-45)" font-size="24" text-anchor="end">miR-NC</text>
<text transform="translate(1200.8,1578.0) rotate(-45)" font-size="24" text-anchor="end">pre-miR-490-3p</text>
<text transform="translate(1318.6,1578.0) rotate(-45)" font-size="24" text-anchor="end">miR-NC</text>
<text transform="translate(1389.4,1578.0) rotate(-45)" font-size="24" text-anchor="end">pre-miR-490-3p</text>
<text x="1173.0" y="1468.5" font-size="42" text-anchor="middle">*</text>
<text x="1191.6" y="1468.5" font-size="42" text-anchor="middle">*</text>
<text x="1210.7" y="1468.5" font-size="42" text-anchor="middle">*</text>
<text x="1251.2" y="1221.6" font-size="34.2" text-anchor="middle">CCLP1</text>
<rect x="1080" y="1260.2" width="26.3" height="21.3" fill="#fff" stroke="#000" stroke-width="3.8" rx="1"/>
<rect x="1076.9" y="1294.6" width="30.7" height="24.5" fill="#000" rx="1"/>
<text x="1120.6" y="1280.2" font-size="27.4">Wild type</text>
<text x="1120.3" y="1315.6" font-size="27.1">Mutant type</text>
<text transform="translate(1015.0,1436.0) rotate(-90)" font-size="31.4" font-weight="bold" text-anchor="middle">Relative luciferase activity</text>
<line x1="1678.2" y1="1390.5" x2="1678.2" y2="1372.1" stroke="#000" stroke-width="3" stroke-linecap="butt"/>
<line x1="1665.7" y1="1372.1" x2="1690.7" y2="1372.1" stroke="#000" stroke-width="3.3" stroke-linecap="round"/>
<rect x="1655.2" y="1392.0" width="46.0" height="162.4" fill="#fff" stroke="#000" stroke-width="3"/>
<line x1="1746.3" y1="1464.5" x2="1746.3" y2="1451.9" stroke="#000" stroke-width="3" stroke-linecap="butt"/>
<line x1="1733.8" y1="1451.9" x2="1758.8" y2="1451.9" stroke="#000" stroke-width="3.3" stroke-linecap="round"/>
<rect x="1723.3" y="1466.0" width="46.0" height="88.4" fill="#fff" stroke="#000" stroke-width="3"/>
<line x1="1861.0" y1="1389.3" x2="1861.0" y2="1383.3" stroke="#000" stroke-width="3" stroke-linecap="butt"/>
<line x1="1848.5" y1="1383.3" x2="1873.5" y2="1383.3" stroke="#000" stroke-width="3.3" stroke-linecap="round"/>
<rect x="1838.0" y="1390.8" width="46.0" height="163.6" fill="#000" stroke="#000" stroke-width="3"/>
<line x1="1930.0" y1="1386.2" x2="1930.0" y2="1374.3" stroke="#000" stroke-width="3" stroke-linecap="butt"/>
<line x1="1917.5" y1="1374.3" x2="1942.5" y2="1374.3" stroke="#000" stroke-width="3.3" stroke-linecap="round"/>
<rect x="1907.0" y="1387.7" width="46.0" height="166.7" fill="#000" stroke="#000" stroke-width="3"/>
<line x1="1619.3" y1="1308.3" x2="1619.3" y2="1555.9" stroke="#000" stroke-width="3" stroke-linecap="butt"/>
<line x1="1617.8" y1="1554.4" x2="1988.6" y2="1554.4" stroke="#000" stroke-width="3" stroke-linecap="butt"/>
<line x1="1611.3" y1="1554.4" x2="1619.3" y2="1554.4" stroke="#000" stroke-width="2.2" stroke-linecap="butt"/>
<text x="1609.5" y="1561.6" font-size="20.5" font-weight="bold" text-anchor="end">0.0</text>
<line x1="1611.3" y1="1472.4" x2="1619.3" y2="1472.4" stroke="#000" stroke-width="2.2" stroke-linecap="butt"/>
<text x="1609.5" y="1479.5" font-size="20.5" font-weight="bold" text-anchor="end">0.5</text>
<line x1="1611.3" y1="1390.3" x2="1619.3" y2="1390.3" stroke="#000" stroke-width="2.2" stroke-linecap="butt"/>
<text x="1609.5" y="1397.5" font-size="20.5" font-weight="bold" text-anchor="end">1.0</text>
<line x1="1611.3" y1="1308.3" x2="1619.3" y2="1308.3" stroke="#000" stroke-width="2.2" stroke-linecap="butt"/>
<text x="1609.5" y="1315.5" font-size="20.5" font-weight="bold" text-anchor="end">1.5</text>
<line x1="1678.2" y1="1554.4" x2="1678.2" y2="1562.9" stroke="#000" stroke-width="2.4" stroke-linecap="butt"/>
<line x1="1746.3" y1="1554.4" x2="1746.3" y2="1562.9" stroke="#000" stroke-width="2.4" stroke-linecap="butt"/>
<line x1="1861.0" y1="1554.4" x2="1861.0" y2="1562.9" stroke="#000" stroke-width="2.4" stroke-linecap="butt"/>
<line x1="1930.0" y1="1554.4" x2="1930.0" y2="1562.9" stroke="#000" stroke-width="2.4" stroke-linecap="butt"/>
<text transform="translate(1686.2,1570.0) rotate(-45)" font-size="24" text-anchor="end">miR-NC</text>
<text transform="translate(1754.3,1570.0) rotate(-45)" font-size="24" text-anchor="end">pre-miR-490-3p</text>
<text transform="translate(1869.0,1570.0) rotate(-45)" font-size="24" text-anchor="end">miR-NC</text>
<text transform="translate(1938.0,1570.0) rotate(-45)" font-size="24" text-anchor="end">pre-miR-490-3p</text>
<text x="1728.8" y="1459.7" font-size="42" text-anchor="middle">*</text>
<text x="1747.4" y="1459.7" font-size="42" text-anchor="middle">*</text>
<text x="1765.9" y="1459.7" font-size="42" text-anchor="middle">*</text>
<text x="1792.0" y="1221.8" font-size="34.9" text-anchor="middle">RBE</text>
<rect x="1637.6" y="1258.3" width="25" height="20.7" fill="#fff" stroke="#000" stroke-width="3.8" rx="1"/>
<rect x="1635.7" y="1287.7" width="28.8" height="23.9" fill="#000" rx="1"/>
<text x="1676.8" y="1277.8" font-size="26.8">Wild type</text>
<text x="1677.0" y="1308.4" font-size="26.5">Mutant type</text>
<text transform="translate(1574.0,1430.0) rotate(-90)" font-size="30.8" font-weight="bold" text-anchor="middle">Relative luciferase activity</text>
<!--END-->
</svg>
</body></html>
